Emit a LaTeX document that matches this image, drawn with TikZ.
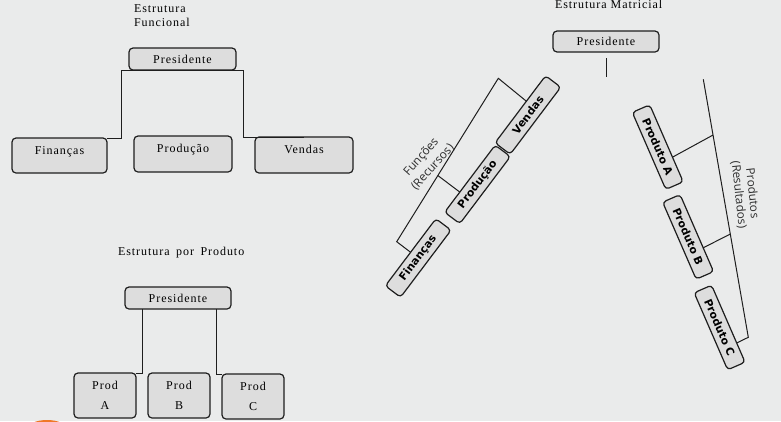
\documentclass[tikz,border=0pt]{standalone}
\usepackage{fontspec}
\usetikzlibrary{calc}
\newfontfamily\serifls[LetterSpace=8]{Liberation Serif}
\newfontfamily\boldsans{DejaVu Sans}
\newfontfamily\labsans{Open Sans}
\definecolor{bgc}{RGB}{234,235,235}
\definecolor{boxc}{RGB}{221,221,221}
\definecolor{linec}{RGB}{30,30,30}
\definecolor{orangec}{RGB}{240,120,40}
\begin{document}
\begin{tikzpicture}[x=1pt,y=-1pt,
  every node/.style={inner sep=0pt, outer sep=0pt},
  sbox/.style={draw=linec, fill=boxc, rounded corners=4pt, line width=1.2pt,
    font=\serifls\fontsize{12}{14.5}\selectfont, text=black},
  lowtext/.style={text height=8pt, text depth=11pt},
  dbox/.style={draw=linec, fill=boxc, rounded corners=3.5pt, line width=1.2pt,
    minimum width=84pt, minimum height=19pt,
    font=\boldsans\bfseries\fontsize{10.8}{12}\selectfont, text=black},
  ttl/.style={font=\serifls\fontsize{12}{14.5}\selectfont, anchor=base west, text=black},
  conn/.style={draw=linec, line width=1pt},
  rotlab/.style={font=\labsans\fontsize{11.8}{15.5}\selectfont, text=black!82, align=center},
]
\useasboundingbox (0,0) rectangle (781,421);
\fill[bgc] (0,0) rectangle (781,421);
\begin{scope}
  \clip (0,0) rectangle (781,421);
  \fill[orangec] (47,430) ellipse [x radius=21, y radius=10];
\end{scope}

% ---------- Estrutura Funcional ----------
\node[ttl] (t1a) at (134,12.7) {Estrutura};
\node[ttl] (t1b) at (134,26) {Funcional};
\node[sbox, minimum width=107pt, minimum height=22pt] (p1) at (182.5,59) {Presidente};
\node[sbox, lowtext, minimum width=95pt, minimum height=35pt] (fin1) at (59.5,155.5) {Finanças};
\node[sbox, lowtext, minimum width=98pt, minimum height=36pt] (pro1) at (183,154) {Produção};
\node[sbox, lowtext, minimum width=98pt, minimum height=36pt] (ven1) at (304,155) {Vendas};
\draw[conn] (fin1.north east) -| ([xshift=-8pt]p1.south west) -- ([xshift=7pt]p1.south east) |- (ven1.north);

% ---------- Estrutura por Produto ----------
\node[ttl] (t2) at (118,255) {Estrutura\hspace{2.5pt} por\hspace{2.5pt} Produto};
\node[sbox, minimum width=106pt, minimum height=22pt] (p2) at (178,298) {Presidente};
\node[sbox, minimum width=62pt, minimum height=45pt, align=center] (pa) at (105,395.5) {Prod\\[5.5pt]A};
\node[sbox, minimum width=62pt, minimum height=45pt, align=center] (pb) at (179,395.5) {Prod\\[5.5pt]B};
\node[sbox, minimum width=62pt, minimum height=45pt, align=center] (pc) at (253,396.5) {Prod\\[5.5pt]C};
\draw[conn] ([xshift=17pt]p2.south west) |- (pa.north east);
\draw[conn] ([xshift=-15pt]p2.south east) |- (pc.north west);

% ---------- Estrutura Matricial ----------
\node[ttl] (t3) at (555,8.3) {Estrutura Matricial};
\node[sbox, minimum width=106pt, minimum height=21pt] (p3) at (606,41.5) {Presidente};
\draw[conn] ([yshift=-6pt]p3.south) -- ([yshift=-25pt]p3.south);

\node[dbox, rotate=53] (ven3) at (527.9,115) {Vendas};
\node[dbox, rotate=53] (pro3) at (477.5,184.4) {Produção};
\node[dbox, rotate=53] (fin3) at (418.2,258) {Finanças};
\coordinate (lt) at (498.3,78.3);
\coordinate (lb) at (396.7,241.7);
\coordinate (lm) at ($(lt)!0.595!(lb)$);
\draw[conn] ($(ven3.north)!0.24!(ven3.north east)$) -- (lt) -- (lb) -- (fin3.north);
\draw[conn] (lm) -- ($(pro3.north)!0.4!(pro3.north west)$);
\node[rotlab, rotate=48] (flab) at (427,162) {Funções\\(Recursos)};

\node[dbox, rotate=-66.5] (pa3) at (657.75,147.1) {Produto A};
\node[dbox, rotate=-66.5] (pb3) at (688.1,236.9) {Produto B};
\node[dbox, rotate=-66.5] (pc3) at (719.6,327.5) {Produto C};
\coordinate (rt) at (703.3,79.3);
\coordinate (rb) at (748.3,337.3);
\draw[conn] (rt) -- (rb) -- ($(pc3.north)!0.5!(pc3.north east)$);
\draw[conn] ($(rt)!0.216!(rb)$) -- ($(pa3.north)!0.36!(pa3.north east)$);
\draw[conn] ($(rt)!0.6!(rb)$) -- ($(pb3.north)!0.38!(pb3.north east)$);
\node[rotlab, rotate=-84, font=\labsans\fontsize{11.8}{13.5}\selectfont] (plab) at (745.5,194) {Produtos\\(Resultados)};
\end{tikzpicture}
\end{document}
